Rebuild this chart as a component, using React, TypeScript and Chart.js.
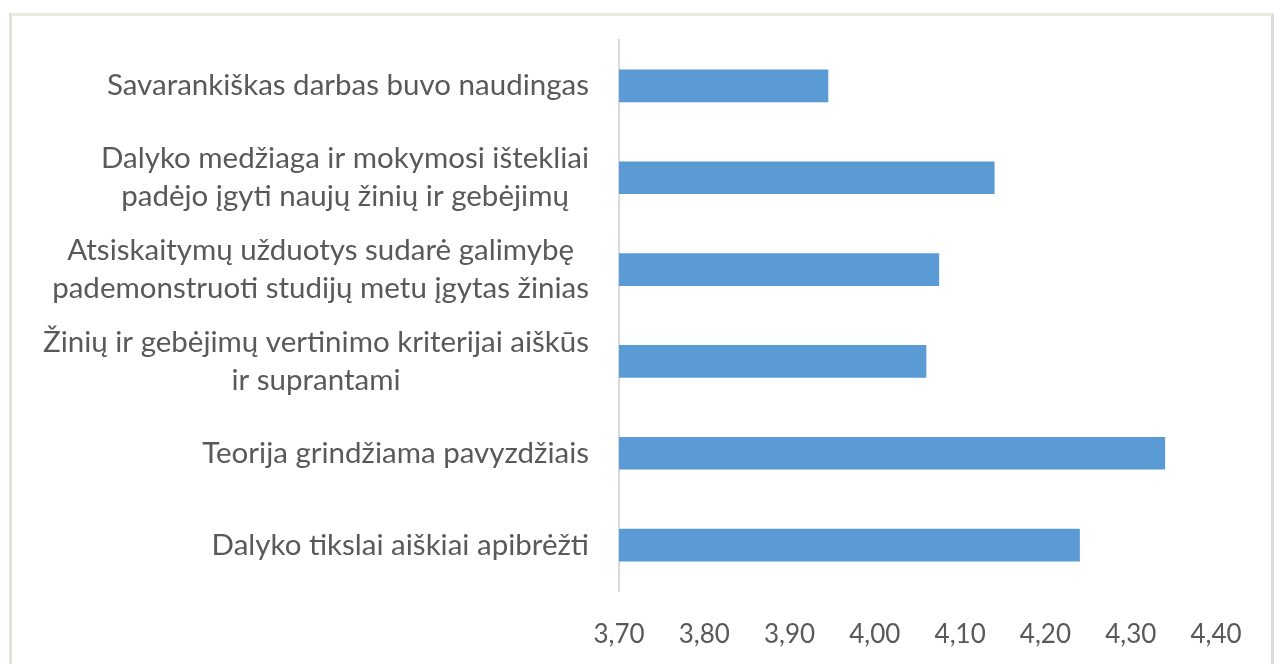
import { useEffect, useRef } from "react";
import { Chart, registerables } from "chart.js";

Chart.register(...registerables);

const categories: string[][] = [
  ["Savarankiškas darbas buvo naudingas"],
  ["Dalyko medžiaga ir mokymosi ištekliai", "padėjo įgyti naujų žinių ir gebėjimų"],
  ["Atsiskaitymų užduotys sudarė galimybę", "pademonstruoti studijų metu įgytas žinias"],
  ["Žinių ir gebėjimų vertinimo kriterijai aiškūs", "ir suprantami"],
  ["Teorija grindžiama pavyzdžiais"],
  ["Dalyko tikslai aiškiai apibrėžti"],
];
const values: number[] = [3.945, 4.14, 4.075, 4.06, 4.34, 4.24];
const xMin = 3.7;
const xMax = 4.4;
const xStep = 0.1;

const TEXT_COLOR = "#595959";
const FONT_FAMILY = "Lato, 'Open Sans', sans-serif";
const LABEL_SIZE = 29.5;
const LABEL_LINE = 38;
const LABEL_RIGHT = 589;

const labelPlugin = {
  id: "centeredBlockLabels",
  afterDraw(chart: any) {
    const ctx = chart.ctx;
    const yScale = chart.scales.y;
    ctx.save();
    ctx.font = `${LABEL_SIZE}px ${FONT_FAMILY}`;
    ctx.fillStyle = TEXT_COLOR;
    ctx.textAlign = "center";
    ctx.textBaseline = "middle";
    categories.forEach((lines, i) => {
      const yc = yScale.getPixelForValue(i);
      const maxW = Math.max(...lines.map((l) => ctx.measureText(l).width));
      const cx = LABEL_RIGHT - maxW / 2;
      const y0 = yc - ((lines.length - 1) * LABEL_LINE) / 2;
      lines.forEach((l, j) => ctx.fillText(l, cx, y0 + j * LABEL_LINE));
    });
    ctx.restore();
  },
};

export default function App() {
  const ref = useRef<HTMLCanvasElement | null>(null);
  useEffect(() => {
    if (!ref.current) return;
    const chart = new Chart(ref.current, {
      type: "bar",
      data: {
        labels: categories.map((c) => c.join(" ")),
        datasets: [
          {
            data: values,
            backgroundColor: "#5b9bd5",
            borderWidth: 0,
            barThickness: 32,
          },
        ],
      },
      plugins: [labelPlugin],
      options: {
        indexAxis: "y",
        animation: false,
        responsive: false,
        maintainAspectRatio: false,
        layout: { padding: { top: 40, right: 67, bottom: 0, left: 0 } },
        plugins: { legend: { display: false }, tooltip: { enabled: false } },
        scales: {
          x: {
            min: xMin,
            max: xMax,
            grid: { display: false, drawTicks: false },
            border: { display: false },
            ticks: {
              stepSize: xStep,
              padding: 28,
              color: TEXT_COLOR,
              font: { family: FONT_FAMILY, size: 26 },
              maxRotation: 0,
              callback: (v: any) => Number(v).toFixed(2).replace(".", ","),
            },
            afterFit: (s: any) => {
              s.height = 73;
            },
          },
          y: {
            grid: { display: false, drawTicks: false },
            border: { display: true, color: "#d9d9d9", width: 2 },
            ticks: { display: false },
            afterFit: (s: any) => {
              s.width = 619;
            },
          },
        },
      },
    });
    return () => chart.destroy();
  }, []);
  return (
    <div style={{ position: "absolute", left: 0, top: 0, width: 1283, height: 664, background: "#fff", overflow: "hidden" }}>
      <div
        style={{
          position: "absolute",
          left: 9,
          top: 13,
          width: 1265,
          height: 700,
          borderTop: "3px solid #ecebe1",
          borderLeft: "3px solid #e2e1d9",
          borderRight: "3px solid #dcdbd5",
          boxSizing: "border-box",
        }}
      />
      <canvas ref={ref} width={1283} height={664} style={{ position: "absolute", left: 0, top: 0 }} />
    </div>
  );
}
